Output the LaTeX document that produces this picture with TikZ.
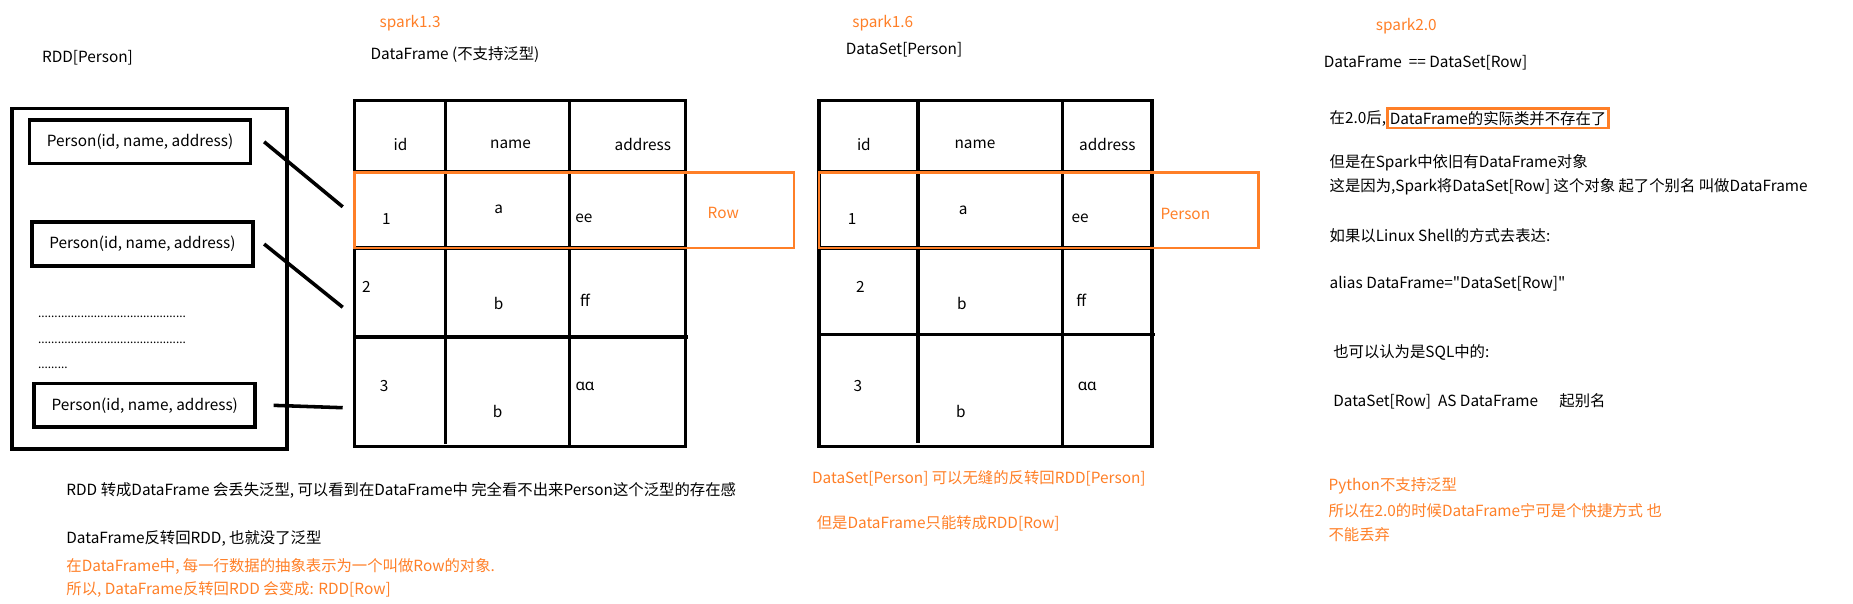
\documentclass[tikz,border=0pt]{standalone}
\usepackage{fontspec}
\setmainfont{Noto Sans CJK SC}
\newfontfamily\alphafont{Noto Sans}
\newfontfamily\straightfont{Noto Sans CJK SC}[Ligatures=TeXOff]
\usetikzlibrary{positioning}
\definecolor{sparkorange}{RGB}{255,127,39}
\begin{document}
\begin{tikzpicture}[x=1pt,y=-1pt,
    every node/.style={font=\fontsize{13}{15}\selectfont, inner sep=0pt},
    boxline/.style={line width=3pt},
    orangeline/.style={draw=sparkorange, line width=2pt},
    note/.style={anchor=west},
    hint/.style={anchor=west, text=sparkorange},
    version/.style={text=sparkorange},
    personbox/.style={draw, line width=3pt, minimum width=187pt, minimum height=37pt},
    dots/.style={anchor=west, font=\fontsize{10}{11}\selectfont}]
    \useasboundingbox (0,0) rectangle (1568,511);

    % Titles of the three versions
    \node[version] (v13) at (347,20) {spark1.3};
    \node (dftitle) at (385,46) {DataFrame (不支持泛型)};
    \node (rddtitle) at (74,49) {RDD[Person]};
    \node[version] (v16) at (747,20) {spark1.6};
    \node (dstitle) at (765,42) {DataSet[Person]};
    \node[version] (v20) at (1190,22) {spark2.0};

    % RDD with Person objects
    \draw[boxline] (10,92) rectangle (243,380);
    \node[personbox] (p1) at (118.5,120) {Person(id, name, address)};
    \node[personbox] (p2) at (120.5,206.5) {Person(id, name, address)};
    \node[personbox] (p3) at (122.5,343) {Person(id, name, address)};
    \node[dots] (d1) at (32,268) {.............................................};
    \node[dots] (d2) at (32,290) {.............................................};
    \node[dots] (d3) at (32,311) {.........};

    % Table of the DataFrame
    \draw[boxline] (300,85) rectangle (580,378);
    \draw[boxline] (377,85) -- (377,376);
    \draw[boxline] (482,85) -- (482,378);
    \draw[boxline] (300,145) -- (580,145);
    \draw[boxline] (300,210) -- (580,210);
    \draw[boxline] (300,285) -- (582,285);
    \node (h1) at (339,122) {id};
    \node (h2) at (432,122) {name};
    \node (h3) at (544,122) {address};
    \node (a1) at (327,185) {1};
    \node (b1) at (422,177) {a};
    \node (c1) at (494,185) {ee};
    \node (a2) at (310,243) {2};
    \node (b2) at (422,257) {b};
    \node (c2) at (495,254) {ff};
    \node (a3) at (325,327) {3};
    \node (b3) at (421,348) {b};
    \node (c3) at (495,327) {\alphafont ɑɑ};

    % Row marked in orange
    \draw[orangeline] (300,146) rectangle (672,210);
    \node[version] (row) at (612,180) {Row};

    % Lines from the Person objects to the rows
    \coordinate (r1) at (290,175);
    \coordinate (r2) at (290,260);
    \coordinate (r3) at (290,345);
    \draw[boxline] ([xshift=10pt]p1.east) -- (r1);
    \draw[boxline] ([xshift=8pt]p2.east) -- (r2);
    \draw[boxline] ([xshift=14pt]p3.east) -- (r3);

    % Table of the DataSet
    \draw[boxline] (693,85) rectangle (975,378);
    \draw[boxline] (777,85) -- (777,375);
    \draw[boxline] (899,85) -- (899,378);
    \draw[boxline] (693,145) -- (975,145);
    \draw[boxline] (693,210) -- (975,210);
    \draw[boxline] (693,283) -- (977,283);
    \node (sh1) at (731,122) {id};
    \node (sh2) at (825,122) {name};
    \node (sh3) at (937,122) {address};
    \node (sa1) at (721,185) {1};
    \node (sb1) at (815,178) {a};
    \node (sc1) at (914,185) {ee};
    \node (sa2) at (728,243) {2};
    \node (sb2) at (814,257) {b};
    \node (sc2) at (915,254) {ff};
    \node (sa3) at (726,327) {3};
    \node (sb3) at (813,348) {b};
    \node (sc3) at (920,327) {\alphafont ɑɑ};
    \draw[orangeline] (693,146) rectangle (1065,210);
    \node[version] (person) at (1003,181) {Person};

    % Notes under the tables
    \node[note] (n1) at (56,415) {RDD 转成DataFrame 会丢失泛型, 可以看到在DataFrame中 完全看不出来Person这个泛型的存在感};
    \node[note] (n2) at (56,456) {DataFrame反转回RDD, 也就没了泛型};
    \node[hint] (n3) at (56,479) {在DataFrame中, 每一行数据的抽象表示为一个叫做Row的对象.};
    \node[hint] (n4) at (56,499) {所以, DataFrame反转回RDD 会变成: RDD[Row]};
    \node[hint] (n5) at (687,405) {DataSet[Person] 可以无缝的反转回RDD[Person]};
    \node[hint] (n6) at (691,443) {但是DataFrame只能转成RDD[Row]};

    % Notes for spark2.0
    \node[note] (m1) at (1120,53) {DataFrame\ \ == DataSet[Row]};
    \node[note] (m2) at (1125,100) {在2.0后,};
    \node[draw=sparkorange, line width=2pt, inner sep=2pt, right=0pt of m2] (m2b) {DataFrame的实际类并不存在了};
    \node[note] (m3) at (1125,138) {但是在Spark中依旧有DataFrame对象};
    \node[note] (m4) at (1125,158) {这是因为,Spark将DataSet[Row] 这个对象 起了个别名 叫做DataFrame};
    \node[note] (m5) at (1125,199) {如果以Linux Shell的方式去表达:};
    \node[note] (m6) at (1125,240) {\straightfont alias DataFrame="DataSet[Row]"};
    \node[note] (m7) at (1128,298) {也可以认为是SQL中的:};
    \node[note] (m8) at (1128,340) {DataSet[Row]\ \ AS DataFrame\hspace{18pt}起别名};
    \node[hint] (m9) at (1124,411) {Python不支持泛型};
    \node[hint] (m10) at (1124,432) {所以在2.0的时候DataFrame宁可是个快捷方式 也};
    \node[hint] (m11) at (1124,452) {不能丢弃};
\end{tikzpicture}
\end{document}
